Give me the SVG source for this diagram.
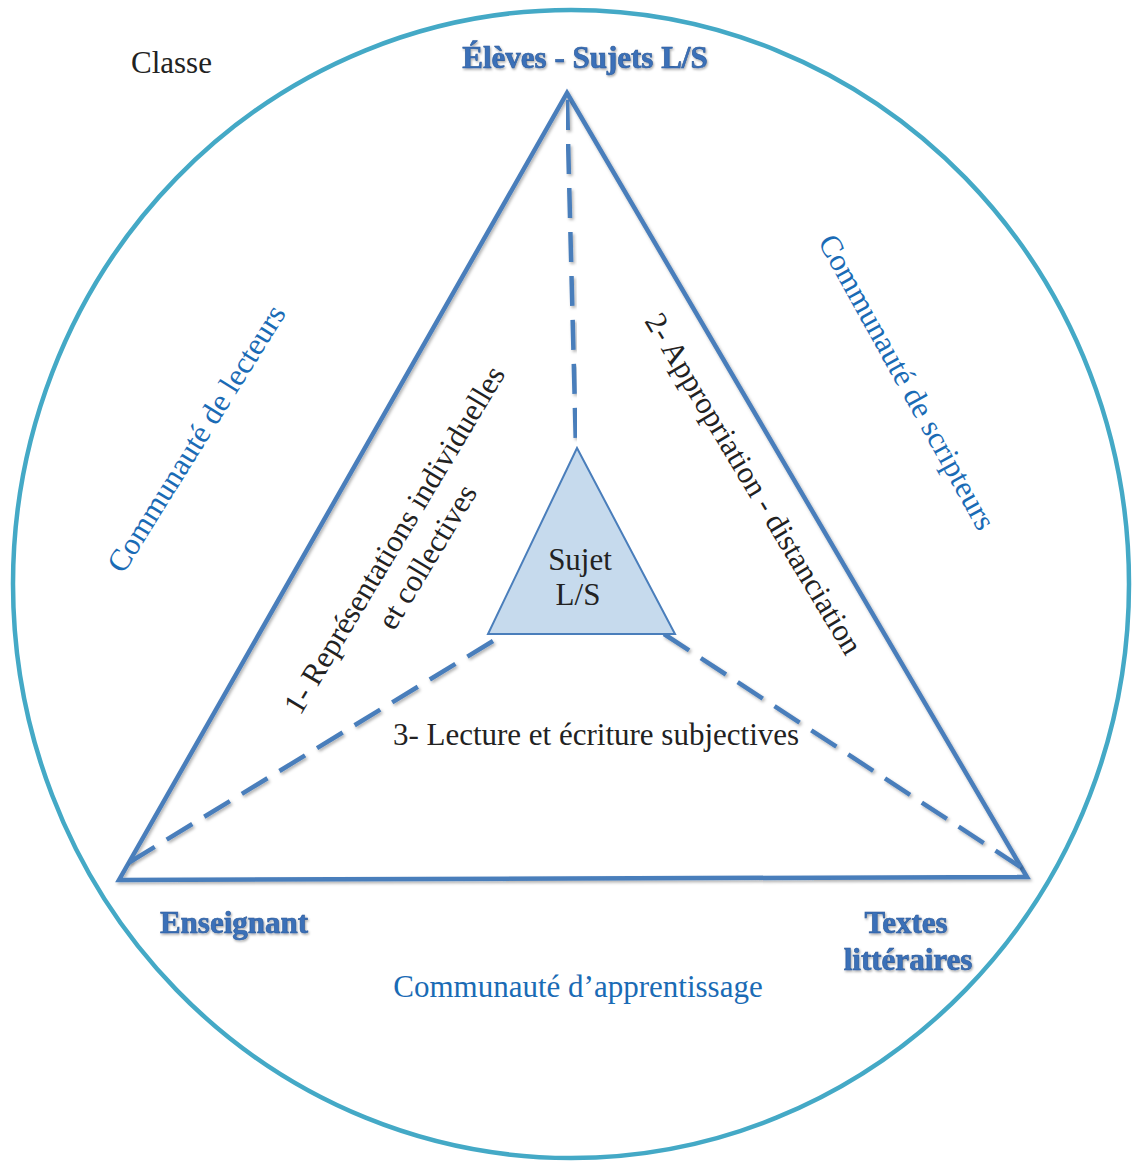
<svg xmlns="http://www.w3.org/2000/svg" width="1133" height="1162" viewBox="0 0 1133 1162">
  <defs>
    <style>
      .serif { font-family: "Liberation Serif", "Times New Roman", serif; }
      .lbl { font-size: 31px; fill: #222222; }
      .comm { font-size: 31px; fill: #1a6bb5; }
      .node { font-size: 31px; font-weight: bold; fill: #3a70b8; stroke: #2c5a9a; stroke-width: 0.6px; }
      .tri { fill: none; stroke: #4a7ebb; stroke-width: 4.5; stroke-linejoin: miter; }
      .dash { fill: none; stroke: #4a7ebb; stroke-width: 4.5; stroke-dasharray: 30 14; }
    </style>
    <filter id="sh" x="-10%" y="-10%" width="120%" height="120%">
      <feDropShadow dx="1.5" dy="2" stdDeviation="1.5" flood-color="#000000" flood-opacity="0.3"/>
    </filter>
    <filter id="tsh" x="-10%" y="-20%" width="120%" height="140%">
      <feDropShadow dx="1" dy="1.5" stdDeviation="1" flood-color="#000000" flood-opacity="0.35"/>
    </filter>
  </defs>

  <rect width="1133" height="1162" fill="#ffffff"/>

  <g id="classe">
    <ellipse cx="571" cy="584" rx="558" ry="574" fill="none" stroke="#44a9c6" stroke-width="4.5"/>
    <text class="serif lbl" x="131" y="73">Classe</text>
  </g>

  <g id="connectors">
    <polygon class="tri" filter="url(#sh)" points="567,93 1027,877 119,880"/>
    <path class="dash" filter="url(#sh)" d="M567,100 L576,450"/>
    <path class="dash" filter="url(#sh)" d="M493,641 L120,868"/>
    <path class="dash" filter="url(#sh)" d="M664,634 L1025,870"/>
  </g>

  <g id="eleves">
    <text class="serif node" filter="url(#tsh)" x="585" y="68" text-anchor="middle">Élèves - Sujets L/S</text>
  </g>

  <g id="enseignant">
    <text class="serif node" filter="url(#tsh)" x="234" y="933" text-anchor="middle">Enseignant</text>
  </g>

  <g id="textes">
    <text class="serif node" filter="url(#tsh)" x="906" y="933" text-anchor="middle">Textes</text>
    <text class="serif node" filter="url(#tsh)" x="908" y="970" text-anchor="middle">littéraires</text>
  </g>

  <g id="sujet">
    <polygon points="577,448 675,634 488,634" fill="#c6daed" stroke="#4a7ebb" stroke-width="2"/>
    <text class="serif lbl" x="580" y="570" text-anchor="middle">Sujet</text>
    <text class="serif lbl" x="578" y="605" text-anchor="middle">L/S</text>
  </g>

  <g id="labels">
    <text class="serif lbl" transform="translate(403,545) rotate(-59)" text-anchor="middle">1- Représentations individuelles</text>
    <text class="serif lbl" transform="translate(436,562) rotate(-59)" text-anchor="middle">et collectives</text>
    <text class="serif lbl" transform="translate(745,489) rotate(59)" text-anchor="middle">2- Appropriation - distanciation</text>
    <text class="serif lbl" x="596" y="745" text-anchor="middle">3- Lecture et écriture subjectives</text>
  </g>

  <g id="communautes">
    <text class="serif comm" transform="translate(205,444) rotate(-58)" text-anchor="middle">Communauté de lecteurs</text>
    <text class="serif comm" transform="translate(898,387) rotate(61)" text-anchor="middle">Communauté de scripteurs</text>
    <text class="serif comm" x="578" y="997" text-anchor="middle">Communauté d’apprentissage</text>
  </g>
</svg>
